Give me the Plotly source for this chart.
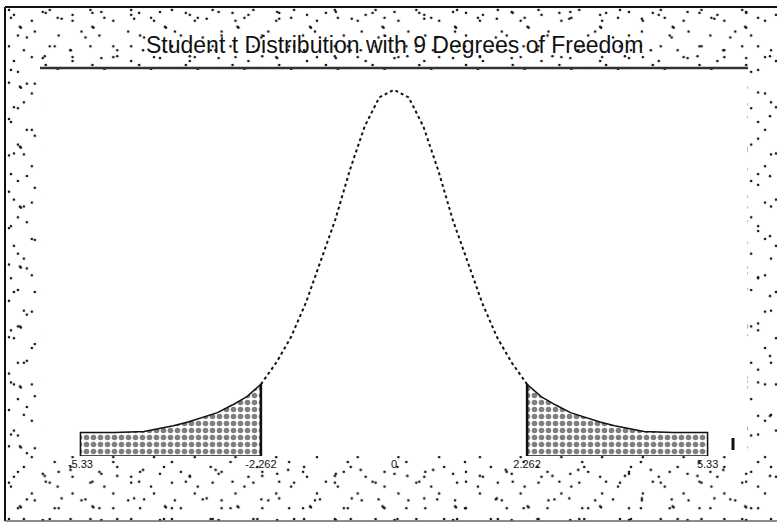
import base64
import plotly.graph_objects as go

# Student t density (9 degrees of freedom), as charted
t_values = [-5.33, -4.75, -4.25, -3.75, -3.5, -3.0, -2.75, -2.5, -2.262,
            -2.0, -1.75, -1.5, -1.25, -1.0, -0.75, -0.5, -0.25, 0.0,
            0.25, 0.5, 0.75, 1.0, 1.25, 1.5, 1.75, 2.0, 2.262,
            2.5, 2.75, 3.0, 3.5, 3.75, 4.25, 4.75, 5.33]
density = [0.025, 0.025, 0.026, 0.032, 0.036, 0.046, 0.054, 0.063, 0.076,
           0.099, 0.126, 0.162, 0.206, 0.250, 0.303, 0.349, 0.380, 0.388,
           0.380, 0.349, 0.303, 0.250, 0.206, 0.162, 0.126, 0.099, 0.076,
           0.063, 0.054, 0.046, 0.036, 0.032, 0.026, 0.025, 0.025]
critical_t = 2.262
tick_values = [-5.33, -2.262, 0, 2.262, 5.33]
tick_labels = ["-5.33", "-2.262", "0", "2.262", "5.33"]
title_text = "Student t Distribution with 9 Degrees of Freedom"

W, H = 777, 523
PLOT_L, PLOT_R, PLOT_T, PLOT_B = 41, 747, 70, 456


def px(x):
    return x / W


def py(y):
    return 1 - y / H


def d_at(t):
    return density[t_values.index(t)]


# stippled paper texture: sparse tiles with unrelated periods overlaid
tiles = [
    (41, 37, [(4, 3), (27, 14), (13, 29)]),
    (59, 47, [(9, 8), (38, 5), (22, 31), (50, 40)]),
    (73, 61, [(15, 20), (16, 21), (57, 12), (40, 50), (66, 44)]),
    (47, 53, [(6, 11), (30, 25), (19, 44), (41, 6)]),
]
defs, fills = "", ""
for i, (tw, th, pts) in enumerate(tiles):
    circles = "".join(f'<circle cx="{x}" cy="{y}" r="1.3" fill="#111"/>' for x, y in pts)
    defs += (f'<pattern id="p{i}" width="{tw}" height="{th}" '
             f'patternUnits="userSpaceOnUse">{circles}</pattern>')
    fills += f'<rect width="{W}" height="{H}" fill="url(#p{i})"/>'
svg = (f'<svg xmlns="http://www.w3.org/2000/svg" width="{W}" height="{H}" '
       f'preserveAspectRatio="none"><defs>{defs}</defs>'
       f'<rect width="{W}" height="{H}" fill="white"/>{fills}</svg>')
svg_uri = "data:image/svg+xml;base64," + base64.b64encode(svg.encode()).decode()

fig = go.Figure()

left_t = [t for t in t_values if t <= -critical_t]
right_t = [t for t in t_values if t >= critical_t]
mid_t = [t for t in t_values if -critical_t <= t <= critical_t]

tail_fill = dict(shape=".", size=7, solidity=0.5, fgcolor="#000", bgcolor="white")
for tail in (left_t, right_t):
    xs = [tail[0]] + tail + [tail[-1], tail[0]]
    ys = [0] + [d_at(t) for t in tail] + [0, 0]
    fig.add_trace(go.Scatter(x=xs, y=ys, mode="lines", fill="toself",
                             fillpattern=tail_fill, fillcolor="white",
                             line=dict(color="#111", width=1.5),
                             hoverinfo="skip", showlegend=False))

# dotted density curve between the critical values
fig.add_trace(go.Scatter(x=mid_t, y=[d_at(t) for t in mid_t], mode="lines",
                         line=dict(color="#111", width=2, dash="dot"),
                         showlegend=False))

# critical value markers
for c in (-critical_t, critical_t):
    fig.add_trace(go.Scatter(x=[c, c], y=[0, d_at(c)], mode="lines",
                             line=dict(color="#111", width=2.5), showlegend=False))

fig.update_layout(
    width=W, height=H,
    margin=dict(l=0, r=0, t=0, b=0),
    paper_bgcolor="white", plot_bgcolor="white",
    font=dict(family="Liberation Sans, Arial, sans-serif", color="#111"),
    xaxis=dict(domain=[px(PLOT_L), px(PLOT_R)], range=[-6, 6],
               tickvals=tick_values, ticktext=tick_labels,
               tickfont=dict(size=11), showgrid=False, zeroline=False,
               showline=False, ticks=""),
    yaxis=dict(domain=[py(PLOT_B), py(PLOT_T)], range=[0, 0.409],
               visible=False, showgrid=False, zeroline=False),
    images=[dict(source=svg_uri, xref="paper", yref="paper",
                 x=px(5), y=py(7), sizex=px(W - 5), sizey=(H - 7 - 2) / H,
                 xanchor="left", yanchor="top", sizing="stretch", layer="below")],
    shapes=[
        dict(type="rect", xref="paper", yref="paper", layer="below",
             x0=px(PLOT_L), x1=px(PLOT_R), y0=py(PLOT_B), y1=py(PLOT_T),
             fillcolor="white", line=dict(width=0)),
        dict(type="line", xref="paper", yref="paper",
             x0=px(40), x1=px(748), y0=py(68), y1=py(68),
             line=dict(color="#333", width=2.5)),
        dict(type="line", xref="paper", yref="paper",
             x0=px(5), x1=1, y0=py(7), y1=py(7), line=dict(color="#111", width=2)),
        dict(type="line", xref="paper", yref="paper",
             x0=px(5), x1=px(5), y0=py(7), y1=py(521), line=dict(color="#111", width=2)),
        dict(type="line", xref="paper", yref="paper",
             x0=px(5), x1=1, y0=py(521), y1=py(521), line=dict(color="#666", width=1.5)),
        dict(type="line", xref="paper", yref="paper",
             x0=px(733), x1=px(733), y0=py(438), y1=py(450),
             line=dict(color="#111", width=3)),
    ],
    annotations=[dict(text=title_text, xref="paper", yref="paper",
                      x=px(394), y=py(45), xanchor="center", yanchor="middle",
                      showarrow=False, font=dict(size=23, color="#111"))],
)

fig.write_html("out.html")
